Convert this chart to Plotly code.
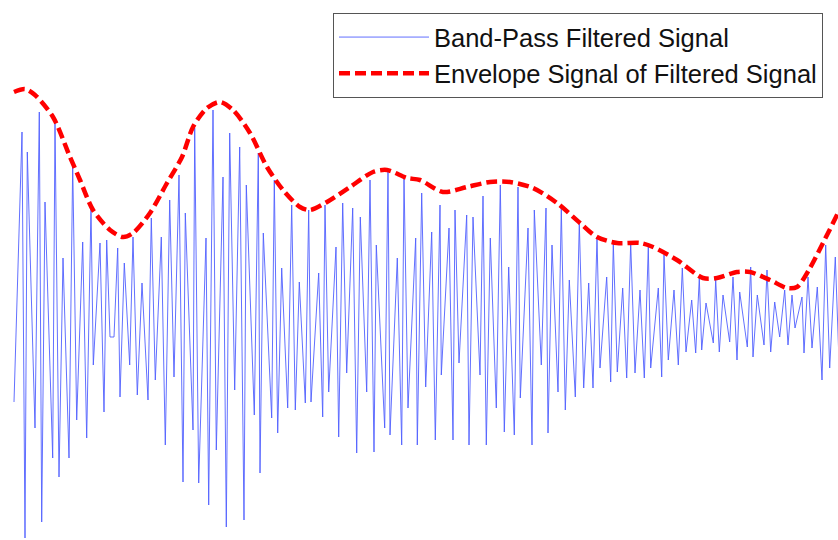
import plotly.graph_objects as go

# Band-pass filtered signal: sample index and amplitude (arbitrary units)
signal_t = [0, 8, 11, 13.3, 21, 25.3, 27.7, 31, 38.7, 41, 45, 49, 55, 58.7, 62.7, 68.7, 72.7, 77, 79.3, 86,
            90, 92.7, 96, 100, 103.7, 106, 110.3, 115.7, 119, 123.3, 128, 134, 137.3, 141.3, 147.3, 151.3,
            155.7, 160, 165, 169, 171.3, 179, 180.7, 184.7, 192, 194.7, 199, 202.3, 209, 212.3, 215.7,
            220.7, 225.7, 230, 232.3, 240.3, 244.3, 246, 249.3, 257.7, 260.3, 263.7, 267.7, 273.7, 277.7,
            281.3, 285.3, 291.3, 294.7, 297, 304.7, 308.7, 311, 314.7, 322, 324.7, 328.7, 332.7, 338.7,
            342.7, 346.3, 352.7, 356, 360, 362.3, 370.7, 374, 376, 383.3, 387.7, 390, 394, 401.7, 403.3,
            407.7, 411.7, 417.7, 421.3, 426, 427.3, 435, 439, 441, 445, 452.7, 455, 459, 466, 469, 472.3,
            476.3, 482.3, 486.3, 490.3, 494.7, 500.3, 504, 506.3, 514, 518, 520.3, 527.3, 532, 534, 538,
            544, 547.3, 551.3, 555.3, 561.3, 565.3, 569.7, 574.7, 579, 583, 586, 592.7, 596.7, 599.3,
            603.3, 608.7, 612.7, 616.7, 621, 626, 630.3, 634.3, 636.7, 644.3, 647.7, 650, 654.3, 660,
            664.3, 668.3, 672, 677.7, 681.7, 685.3, 687.7, 692, 699.3, 701.7, 705.3, 709, 715.7, 719, 723,
            725.7, 733.3, 736.7, 739, 743.3, 750, 753, 756.7, 760.7, 765.7, 770.7, 774, 778, 781, 788,
            790, 794, 798, 803.3, 808, 811.7, 815.7, 821.3, 826]
signal_amp = [-72, 198, -208, 178, -98, 218, -192, 128, -128, 207, -147, 72, -128, 165, -90, 88, -108, 123,
              -35, 87, -82, 90, -7, -7, 82, -67, 67, -35, 93, -65, 47, -70, 112, -50, 93, -115, 130, -47,
              155, -152, 117, -100, 202, -153, 92, -175, 220, -120, 153, -197, 197, -60, 183, -190, 145,
              -85, 177, -143, 97, -88, 150, -103, 62, -78, 125, -80, 48, -73, 120, -72, 57, -87, 125, -62,
              83, -107, 127, -43, 122, -123, 113, -62, 150, -122, 85, -98, 160, -105, 72, -115, 152, -78,
              92, -115, 137, -57, 98, -110, 125, -45, 102, -110, 120, -33, 115, -115, 113, -45, 134, -115,
              92, -78, 145, -102, 63, -105, 143, -68, 102, -115, 120, -35, 122, -103, 85, -62, 122, -80,
              50, -67, 107, -58, 47, -58, 93, -38, 53, -52, 87, -42, 42, -48, 87, -43, 40, -48, 83, -38,
              42, -47, 75, -30, 40, -35, 62, -22, 30, -23, 52, -20, 27, -13, 50, -22, 35, -12, 53, -30,
              38, -17, 63, -27, 35, -15, 60, -22, 28, -7, 40, -15, 35, 2, 33, -23, 53, -18, 43, -50, 85,
              -38, 73, -60]

# Envelope of the filtered signal
envelope_t = [0, 11, 21, 39, 56, 66, 79, 96, 109, 119, 136, 153, 168, 179, 193, 206, 219, 236, 253, 269,
              286, 296, 313, 336, 359, 373, 393, 406, 429, 453, 476, 496, 519, 543, 566, 583, 603, 626,
              639, 663, 689, 703, 723, 736, 756, 773, 783, 796, 809, 824]
envelope_amp = [238, 241, 235, 213, 173, 150, 120, 100, 93, 97, 117, 147, 173, 203, 222, 228, 220, 197, 163,
                140, 123, 120, 128, 143, 158, 160, 152, 150, 138, 143, 148, 148, 142, 127, 107, 93, 87,
                87, 83, 70, 52, 52, 58, 58, 50, 42, 43, 62, 87, 117]

fig = go.Figure()
fig.add_trace(go.Scatter(
    x=signal_t, y=signal_amp, mode="lines",
    name="Band-Pass Filtered Signal",
    line=dict(color="#5060ff", width=0.9),
    legendgroup="a",
))
fig.add_trace(go.Scatter(
    x=envelope_t, y=envelope_amp, mode="lines",
    name="Envelope Signal of Filtered Signal",
    line=dict(color="#ff0000", width=4.5, dash="11px,5px", shape="spline", smoothing=0.8),
    legendgroup="b",
))

fig.update_layout(
    width=838, height=540,
    margin=dict(l=0, r=0, t=0, b=0, pad=0),
    paper_bgcolor="white", plot_bgcolor="white",
    xaxis=dict(range=[-14, 824], visible=False),
    yaxis=dict(range=[-210, 330], visible=False),
    showlegend=True,
    legend=dict(
        x=333 / 838, y=1 - 13 / 540, xanchor="left", yanchor="top",
        bgcolor="white", bordercolor="#555555", borderwidth=1,
        font=dict(family="Liberation Sans, Arial, sans-serif", size=25.5, color="#111111"),
        itemwidth=90, tracegroupgap=0,
    ),
)

fig.write_html("out.html")
